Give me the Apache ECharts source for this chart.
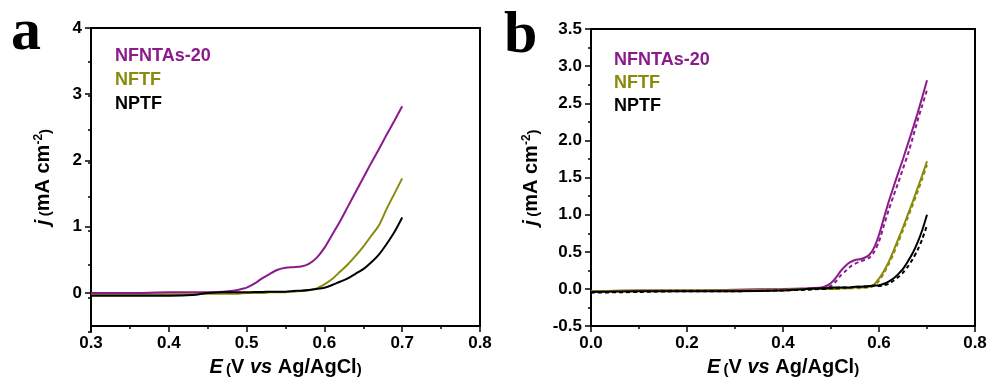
<!DOCTYPE html>
<html><head><meta charset="utf-8">
<script src="https://cdn.jsdelivr.net/npm/echarts@6/dist/echarts.min.js"></script>
<style>html,body{margin:0;padding:0;background:#fff}#c{width:990px;height:382px}</style>
</head><body><div id="c"></div>
<script>
// ---------- Panel a data ----------
const aE        = [0.30, 0.35, 0.40, 0.43, 0.45, 0.47, 0.48, 0.49, 0.50, 0.51, 0.52, 0.53, 0.54, 0.55, 0.56, 0.57, 0.58, 0.59, 0.60, 0.61, 0.62, 0.63, 0.64, 0.65, 0.66, 0.67, 0.68, 0.69, 0.70];
const aNFNTAs20 = [0.00, 0.00, 0.01, 0.01, 0.01, 0.02, 0.03, 0.05, 0.08, 0.14, 0.22, 0.29, 0.35, 0.38, 0.39, 0.40, 0.44, 0.53, 0.68, 0.88, 1.08, 1.30, 1.52, 1.74, 1.96, 2.17, 2.39, 2.60, 2.82];
const aNFTF     = [-0.02,-0.02,-0.02,-0.02,-0.01,-0.01,-0.01,-0.01, 0.00, 0.00, 0.00, 0.01, 0.01, 0.01, 0.02, 0.03, 0.04, 0.07, 0.13, 0.21, 0.32, 0.43, 0.56, 0.70, 0.86, 1.02, 1.27, 1.50, 1.73];
const aNPTF     = [-0.04,-0.04,-0.04,-0.03, 0.00, 0.01, 0.01, 0.01, 0.01, 0.015,0.015,0.02, 0.02, 0.02, 0.03, 0.035,0.045,0.06, 0.08, 0.12, 0.17, 0.22, 0.29, 0.36, 0.46, 0.58, 0.74, 0.92, 1.14];

// ---------- Panel b data ----------
const bE              = [0.00, 0.10, 0.20, 0.30, 0.40, 0.45, 0.48, 0.49, 0.50, 0.51, 0.52, 0.53, 0.54, 0.55, 0.56, 0.57, 0.58, 0.59, 0.60, 0.61, 0.62, 0.63, 0.64, 0.65, 0.66, 0.67, 0.68, 0.69, 0.70];
const bNFNTAs20       = [-0.03,-0.02,-0.02,-0.01, 0.00, 0.01, 0.02, 0.04, 0.08, 0.15, 0.24, 0.31, 0.36, 0.39, 0.40, 0.42, 0.46, 0.56, 0.73, 0.95, 1.17, 1.37, 1.56, 1.75, 1.95, 2.15, 2.36, 2.58, 2.81];
const bNFNTAs20Dashed = [-0.04,-0.03,-0.02,-0.02,-0.01, 0.00, 0.01, 0.02, 0.04, 0.10, 0.18, 0.24, 0.30, 0.34, 0.37, 0.39, 0.42, 0.50, 0.64, 0.85, 1.06, 1.25, 1.43, 1.62, 1.81, 2.03, 2.26, 2.47, 2.68];
const bNFTF           = [-0.03,-0.02,-0.02,-0.02,-0.01, 0.00, 0.00, 0.00, 0.00, 0.00, 0.01, 0.01, 0.01, 0.02, 0.02, 0.02, 0.03, 0.06, 0.14, 0.24, 0.36, 0.51, 0.67, 0.83, 1.00, 1.17, 1.35, 1.53, 1.72];
const bNFTFDashed     = [-0.03,-0.03,-0.02,-0.02,-0.01, 0.00, 0.00, 0.00, 0.00, 0.00, 0.00, 0.01, 0.01, 0.01, 0.01, 0.02, 0.02, 0.05, 0.11, 0.21, 0.33, 0.47, 0.63, 0.79, 0.96, 1.13, 1.30, 1.48, 1.67];
const bNPTF           = [-0.04,-0.03,-0.03,-0.03,-0.02, 0.00, 0.01, 0.01, 0.02, 0.02, 0.02, 0.02, 0.02, 0.03, 0.03, 0.035,0.04, 0.045,0.05, 0.07, 0.10, 0.14, 0.20, 0.27, 0.37, 0.48, 0.62, 0.79, 1.00];
const bNPTFDashed     = [-0.05,-0.04,-0.03,-0.03,-0.02,-0.01, 0.00, 0.00, 0.01, 0.01, 0.02, 0.02, 0.02, 0.03, 0.03, 0.03, 0.035,0.04, 0.04, 0.05, 0.07, 0.11, 0.16, 0.22, 0.30, 0.40, 0.52, 0.67, 0.86];

// ---------- tick / label lists ----------
const aXTicks = [0.3, 0.4, 0.5, 0.6, 0.7, 0.8];
const aYTicks = [0, 1, 2, 3, 4];
const bXTicks = [0.0, 0.2, 0.4, 0.6, 0.8];
const bYTicks = [-0.5, 0.0, 0.5, 1.0, 1.5, 2.0, 2.5, 3.0, 3.5];
const legendNames = ['NFNTAs-20', 'NFTF', 'NPTF'];

const PURPLE = '#8B1A8B', OLIVE = '#8A8A0C', BLACK = '#000000';
const FONT = '"Liberation Sans", Arial, sans-serif';

const zip = (xs, ys) => xs.map((x, i) => [x, ys[i]]);

const tickLabelStyle = { color: '#000', fontFamily: FONT, fontWeight: 'bold', fontSize: 17 };
const axisLineStyle = { show: true, onZero: false, lineStyle: { color: '#000', width: 2 } };

const xName = '{e|E} {p|(}{n|V }{e|vs}{n| Ag/AgCl}{p|)}';
const yName = '{e|j} {p|(}{n|mA cm}{s|-2}{p|)}';
const nameRich = {
  e: { fontFamily: FONT, fontWeight: 'bold', fontStyle: 'italic', fontSize: 20, color: '#000' },
  n: { fontFamily: FONT, fontWeight: 'bold', fontSize: 20, color: '#000' },
  p: { fontFamily: FONT, fontWeight: 'bold', fontSize: 15, color: '#000', verticalAlign: 'bottom' },
  s: { fontFamily: FONT, fontWeight: 'bold', fontSize: 12, color: '#000', verticalAlign: 'top' }
};

function xAxisCfg(grid, min, max, interval, ticks) {
  return {
    gridIndex: grid, type: 'value', min, max, interval,
    axisLine: axisLineStyle,
    axisTick: { show: true, inside: false, length: 6, lineStyle: { color: '#000', width: 1.5 } },
    minorTick: { show: true, splitNumber: 2, length: 3, lineStyle: { color: '#000', width: 1.5 } },
    splitLine: { show: false },
    axisLabel: Object.assign({ margin: 9, customValues: ticks, formatter: v => v.toFixed(1) }, tickLabelStyle),
    name: xName, nameLocation: 'middle', nameGap: 27,
    nameTextStyle: { rich: nameRich }
  };
}

const lineBase = { type: 'line', smooth: 0.25, showSymbol: false };

const option = {
  backgroundColor: '#ffffff',
  animation: false,
  grid: [
    { left: 91, top: 28, width: 389, height: 304, show: true, borderColor: '#000', borderWidth: 2, backgroundColor: 'transparent' },
    { left: 591, top: 29, width: 384, height: 303, show: true, borderColor: '#000', borderWidth: 2, backgroundColor: 'transparent' },
    // overlay grid on panel a, used only for its half-step y ticks
    { left: 91, top: 28, width: 389, height: 304, show: false }
  ],
  xAxis: [
    xAxisCfg(0, 0.3, 0.8, 0.1, aXTicks),
    xAxisCfg(1, 0.0, 0.8, 0.2, bXTicks),
    { gridIndex: 2, type: 'value', min: 0.3, max: 0.8, show: false }
  ],
  yAxis: [
    {
      gridIndex: 0, type: 'value', min: -0.5, max: 4, interval: 0.5, position: 'left',
      axisLine: axisLineStyle,
      axisTick: { show: true, inside: false, length: 6, customValues: aYTicks, lineStyle: { color: '#000', width: 1.5 } },
      splitLine: { show: false },
      axisLabel: Object.assign({ margin: 9, customValues: aYTicks, formatter: v => v.toFixed(0) }, tickLabelStyle),
      name: yName, nameLocation: 'middle', nameRotate: 90, nameGap: 38,
      nameTextStyle: { rich: nameRich }
    },
    {
      gridIndex: 1, type: 'value', min: -0.5, max: 3.5, interval: 0.5, position: 'left',
      axisLine: axisLineStyle,
      axisTick: { show: true, inside: false, length: 6, lineStyle: { color: '#000', width: 1.5 } },
      minorTick: { show: true, splitNumber: 2, length: 3, lineStyle: { color: '#000', width: 1.5 } },
      splitLine: { show: false },
      axisLabel: Object.assign({ margin: 9, customValues: bYTicks, formatter: v => v.toFixed(1) }, tickLabelStyle),
      name: yName, nameLocation: 'middle', nameRotate: 90, nameGap: 50,
      nameTextStyle: { rich: nameRich }
    },
    {
      gridIndex: 2, type: 'value', min: -0.5, max: 4, interval: 0.5, position: 'left',
      axisLine: { show: true, onZero: false, lineStyle: { color: '#000', width: 2 } },
      axisTick: { show: true, inside: false, length: 3, lineStyle: { color: '#000', width: 1.5 } },
      splitLine: { show: false },
      axisLabel: { show: false }
    }
  ],
  series: [
    Object.assign({ name: 'NFNTAs-20', xAxisIndex: 0, yAxisIndex: 0, data: zip(aE, aNFNTAs20), lineStyle: { color: PURPLE, width: 2 }, z: 3 }, lineBase),
    Object.assign({ name: 'NFTF', xAxisIndex: 0, yAxisIndex: 0, data: zip(aE, aNFTF), lineStyle: { color: OLIVE, width: 2 }, z: 2 }, lineBase),
    Object.assign({ name: 'NPTF', xAxisIndex: 0, yAxisIndex: 0, data: zip(aE, aNPTF), lineStyle: { color: BLACK, width: 2 }, z: 4 }, lineBase),

    Object.assign({ name: 'NFNTAs-20', xAxisIndex: 1, yAxisIndex: 1, data: zip(bE, bNFNTAs20), lineStyle: { color: PURPLE, width: 2 } }, lineBase),
    Object.assign({ name: 'NFNTAs-20 (dashed)', xAxisIndex: 1, yAxisIndex: 1, data: zip(bE, bNFNTAs20Dashed), lineStyle: { color: PURPLE, width: 2, type: [4, 3] } }, lineBase),
    Object.assign({ name: 'NFTF', xAxisIndex: 1, yAxisIndex: 1, data: zip(bE, bNFTF), lineStyle: { color: OLIVE, width: 2 } }, lineBase),
    Object.assign({ name: 'NFTF (dashed)', xAxisIndex: 1, yAxisIndex: 1, data: zip(bE, bNFTFDashed), lineStyle: { color: OLIVE, width: 2, type: [4, 3] } }, lineBase),
    Object.assign({ name: 'NPTF', xAxisIndex: 1, yAxisIndex: 1, data: zip(bE, bNPTF), lineStyle: { color: BLACK, width: 2 } }, lineBase),
    Object.assign({ name: 'NPTF (dashed)', xAxisIndex: 1, yAxisIndex: 1, data: zip(bE, bNPTFDashed), lineStyle: { color: BLACK, width: 2, type: [4, 3] } }, lineBase)
  ],
  graphic: [
    { type: 'text', left: 11, top: 3, style: { text: 'a', fontFamily: '"Liberation Serif", "Times New Roman", serif', fontWeight: 'bold', fontSize: 60, fill: '#000' } },
    { type: 'text', left: 504, top: 6, style: { text: 'b', fontFamily: '"Liberation Serif", "Times New Roman", serif', fontWeight: 'bold', fontSize: 60, fill: '#000' } }
  ]
};

// legend labels as text, coloured like their series
const legendColors = [PURPLE, OLIVE, BLACK];
const legendPos = [{ x: 115, ys: [56, 80, 104] }, { x: 614, ys: [60, 83.5, 106] }];
legendPos.forEach(p => {
  legendNames.forEach((n, i) => {
    option.graphic.push({
      type: 'text', x: p.x, y: p.ys[i],
      style: { text: n, fontFamily: FONT, fontWeight: 'bold', fontSize: 18, fill: legendColors[i], verticalAlign: 'middle' }
    });
  });
});

const chart = echarts.init(document.getElementById('c'), null, { renderer: 'canvas' });
chart.setOption(option);
</script>
</body></html>
